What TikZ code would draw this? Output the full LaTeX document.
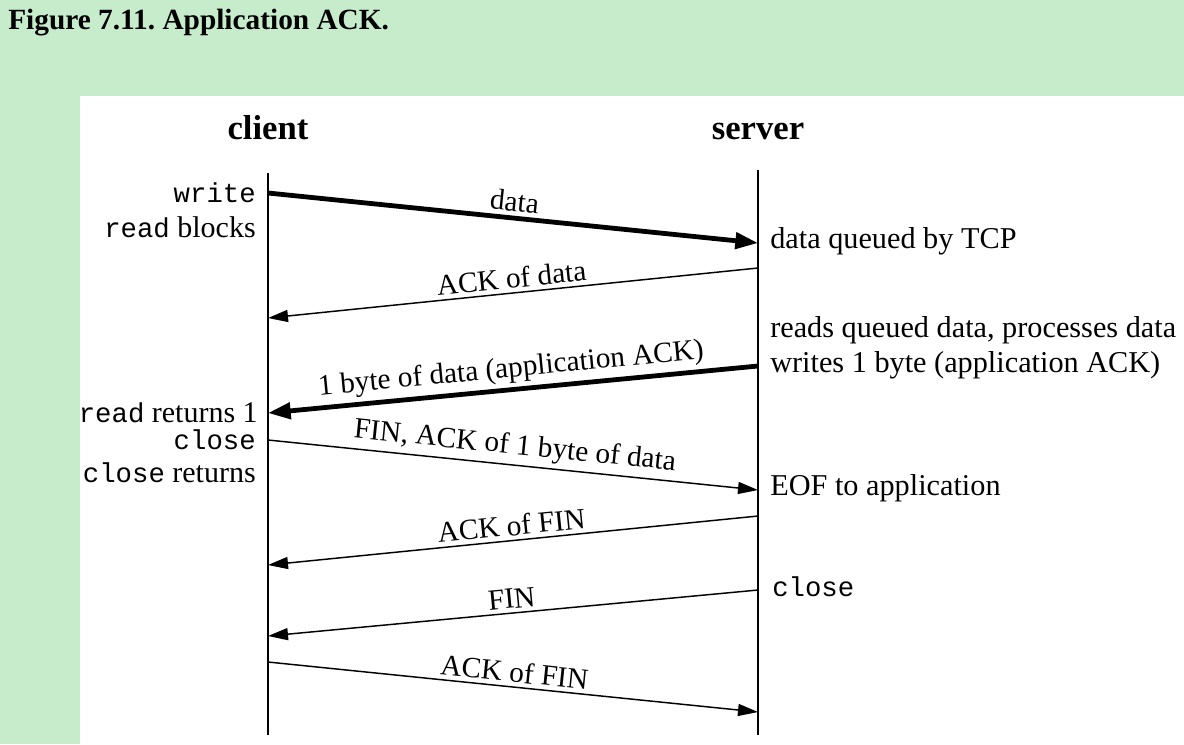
\documentclass[tikz,border=0pt]{standalone}
\usepackage{fontspec}
\setmainfont{Liberation Serif}
\setmonofont{Liberation Mono}
\usetikzlibrary{arrows.meta}
\frenchspacing
\definecolor{bggreen}{RGB}{198,236,204}
\newcommand{\mtt}[1]{{\fontsize{20.5}{24}\selectfont\ttfamily #1}}
\tikzset{
  life/.style={line width=1.1pt},
  thinmsg/.style={line width=1.1pt,-{Triangle[length=15pt,width=9pt]}},
  thickmsg/.style={line width=3.6pt,-{Triangle[length=17pt,width=12pt]}},
  lbl/.style={font=\fontsize{22}{25}\selectfont,sloped,above,inner sep=3pt},
  lefttxt/.style={anchor=east,inner sep=0pt,font=\fontsize{22.5}{25}\selectfont},
  righttxt/.style={anchor=west,inner sep=0pt,font=\fontsize{22.7}{25}\selectfont},
  hdr/.style={font=\fontsize{26}{30}\selectfont\bfseries,inner sep=0pt,anchor=base}
}
\begin{document}
\begin{tikzpicture}[x=0.75pt,y=-0.75pt]
\fill[bggreen] (0,0) rectangle (1184,744);
\fill[white] (80,96) rectangle (1184,744);
\node[anchor=base west,inner sep=0pt,font=\fontsize{22}{25}\selectfont\bfseries] (title) at (8,29) {Figure 7.11. Application ACK.};
% headers
\node[hdr] (client) at (268,139) {client};
\node[hdr] (server) at (758,139) {server};
% lifelines
\coordinate (ctop) at (268,173);
\coordinate (cbot) at (268,735);
\coordinate (stop) at (758,170);
\coordinate (sbot) at (758,735);
\draw[life] (ctop) -- (cbot);
\draw[life] (stop) -- (sbot);
% message endpoints
\coordinate (c1) at (268,193); \coordinate (s1) at (758,243);
\coordinate (s2) at (758,268); \coordinate (c2) at (268,318);
\coordinate (s3) at (758,366); \coordinate (c3) at (268,413);
\coordinate (c4) at (268,440); \coordinate (s4) at (758,490);
\coordinate (s5) at (758,516); \coordinate (c5) at (268,565);
\coordinate (s6) at (758,590); \coordinate (c6) at (268,636);
\coordinate (c7) at (268,662); \coordinate (s7) at (758,712);
% messages
\draw[thickmsg] (c1) -- node[lbl] (m1) {data} (s1);
\draw[thinmsg] (s2) -- node[lbl] (m2) {ACK of data} (c2);
\draw[thickmsg] (s3) -- node[lbl] (m3) {1 byte of data (application ACK)} (c3);
\draw[thinmsg] (c4) -- node[lbl] (m4) {FIN, ACK of 1 byte of data} (s4);
\draw[thinmsg] (s5) -- node[lbl] (m5) {ACK of FIN} (c5);
\draw[thinmsg] (s6) -- node[lbl] (m6) {FIN} (c6);
\draw[thinmsg] (c7) -- node[lbl] (m7) {ACK of FIN} (s7);
% client side texts
\node[lefttxt] (t1) at (256,193) {\mtt{write}};
\node[lefttxt] (t2) at (256,227) {\mtt{read} blocks};
\node[lefttxt] (t3) at (258,413) {\mtt{read} returns 1};
\node[lefttxt] (t4) at (256,440) {\mtt{close}};
\node[lefttxt] (t5) at (256,473) {\mtt{close} returns};
% server side texts
\node[righttxt] (r1) at (770,241) {data queued by TCP};
\node[righttxt] (r2) at (770,330) {reads queued data, processes data};
\node[righttxt] (r3) at (770,365) {writes 1 byte (application ACK)};
\node[righttxt] (r4) at (770,488) {EOF to application};
\node[righttxt] (r5) at (772,587) {\mtt{close}};
\end{tikzpicture}
\end{document}
